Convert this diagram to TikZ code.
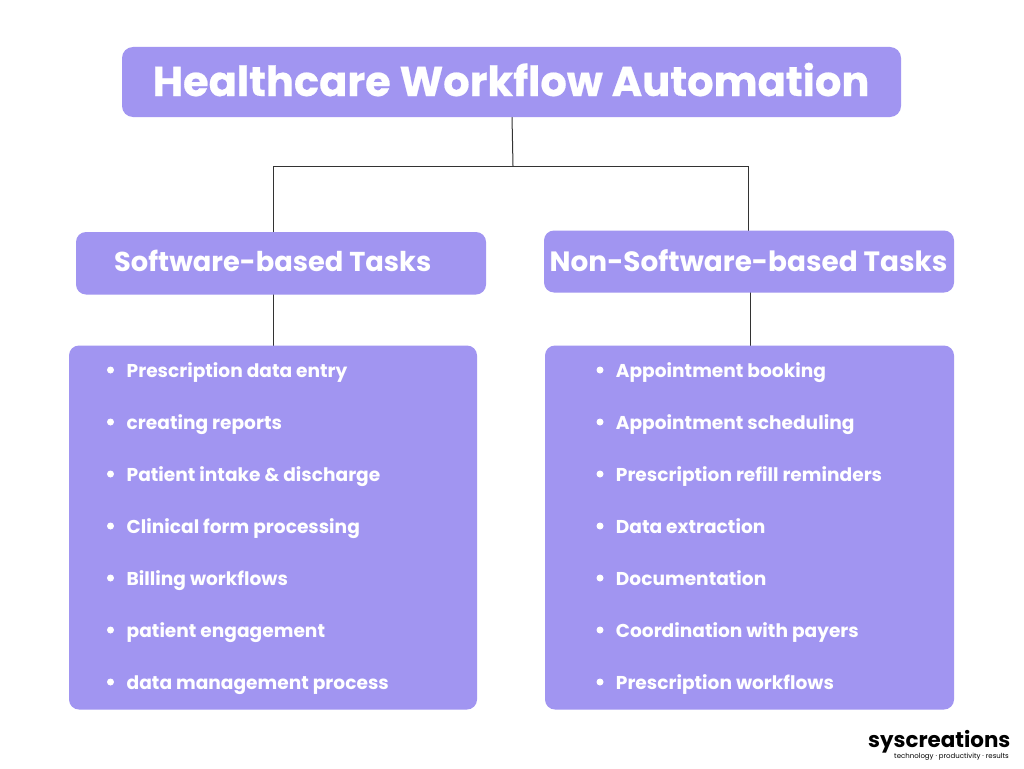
\documentclass[tikz,border=0pt]{standalone}
\usepackage{fontspec}
\setmainfont{Poppins}
\definecolor{boxviolet}{HTML}{A195F1}
\definecolor{linegrey}{HTML}{333333}
\tikzset{
  x=1pt,y=-1pt,
  box/.style={fill=boxviolet,rounded corners=#1,inner sep=0pt},
  boxtext/.style={text=white,font=\bfseries,inner sep=0pt,anchor=base west},
  item/.style={text=white,font=\fontsize{18.6}{23}\selectfont\bfseries,inner sep=0pt,anchor=base west},
  dot/.style={circle,fill=white,minimum size=7pt,inner sep=0pt},
  conn/.style={draw=linegrey,line width=1pt},
}
\newcommand{\boxat}[6]{\path[box=#6] (#2,#3) rectangle (#4,#5) node[pos=.5,inner sep=0pt] (#1) {};}
\begin{document}
\begin{tikzpicture}
\useasboundingbox (0,0) rectangle (1024,768);
\fill[white] (0,0) rectangle (1024,768);
% connectors
\coordinate (titlebot) at (512,117);
\coordinate (junction) at (513,166);
\coordinate (leftcorner) at (273,166);
\coordinate (rightcorner) at (748,166);
\coordinate (swtop) at (273,233);
\coordinate (nstop) at (748,232);
\coordinate (swbot) at (273,293);
\coordinate (nsbot) at (750,291);
\coordinate (swlist) at (273,347);
\coordinate (nslist) at (750,347);
\draw[conn] (titlebot) -- (junction);
\draw[conn] (swtop) -- (leftcorner) -- (rightcorner) -- (nstop);
\draw[conn] (swbot) -- (swlist);
\draw[conn] (nsbot) -- (nslist);
% boxes
\boxat{titlebox}{122}{47}{901}{117}{11pt}
\boxat{swbox}{76}{232}{486}{294.5}{10pt}
\boxat{nsbox}{544}{230.5}{954}{292.5}{10pt}
\boxat{swlistbox}{69}{345.5}{477}{709.5}{10pt}
\boxat{nslistbox}{545}{345.5}{954}{709.5}{10pt}
% headings
\node[boxtext,font=\fontsize{41.55}{46}\selectfont\bfseries\addfontfeature{FakeBold=0.5}] (title) at (152.5,96) {Healthcare Workflow Automation};
\node[boxtext,font=\fontsize{27.3}{32}\selectfont\bfseries] (swhead) at (114,271) {Software-based Tasks};
\node[boxtext,font=\fontsize{27.9}{32}\selectfont\bfseries] (nshead) at (549.5,271) {Non-Software-based Tasks};
% lists
\foreach \n/\y/\t in {1/377/Prescription data entry,2/429/creating reports,3/481/Patient intake \& discharge,4/533/Clinical form processing,5/585/Billing workflows,6/637/patient engagement,7/689/data management process}{
  \node[dot] (swdot\n) at (110.5,\y-7) {};
  \node[item] (switem\n) at (126.5,\y) {\t};
}
\foreach \n/\y/\t in {1/377/Appointment booking,2/429/Appointment scheduling,3/481/Prescription refill reminders,4/533/Data extraction,5/585/Documentation,6/637/Coordination with payers,7/689/Prescription workflows}{
  \node[dot] (nsdot\n) at (600,\y-7) {};
  \node[item] (nsitem\n) at (615.7,\y) {\t};
}
% logo
\node[text=black,font=\fontsize{21.4}{24}\selectfont\bfseries,inner sep=0pt,anchor=base west] (logo) at (868,747) {syscreations};
\node[text=black,font=\fontsize{7}{8}\selectfont,inner sep=0pt,anchor=base east] (tagline) at (1009,758.5) {technology · productivity · results};
\end{tikzpicture}
\end{document}
